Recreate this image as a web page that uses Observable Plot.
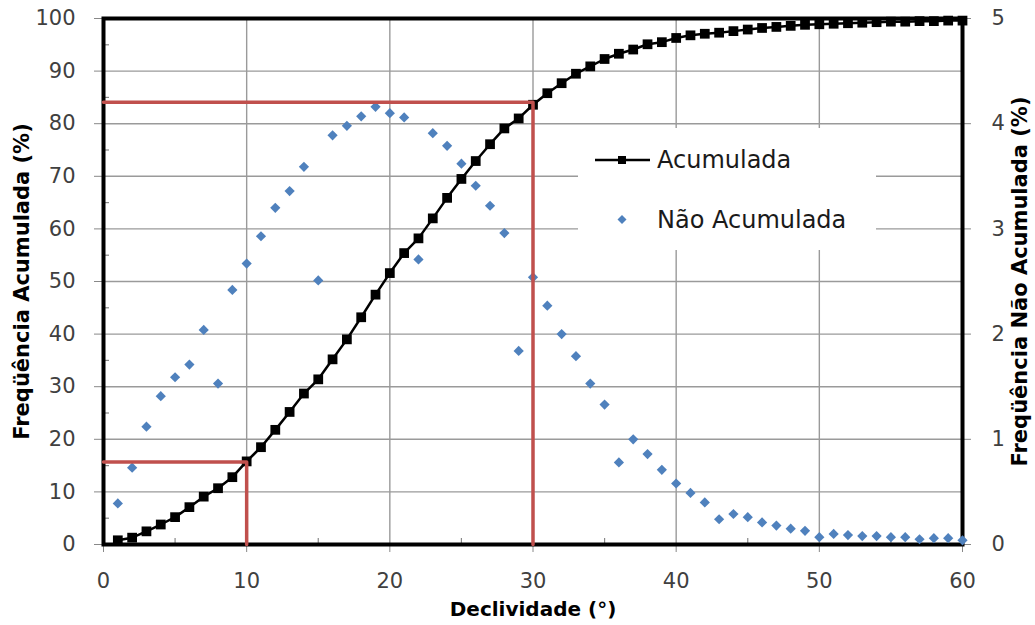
<!DOCTYPE html>
<html>
<head>
<meta charset="utf-8">
<script src="https://cdn.jsdelivr.net/npm/d3@7"></script>
<script src="https://cdn.jsdelivr.net/npm/@observablehq/plot@0.6"></script>
<style>
  html, body { margin: 0; padding: 0; background: white; }
  #chart { position: relative; width: 1035px; height: 625px; }
</style>
</head>
<body>
<div id="chart"></div>
<script>
// Slope classes (degrees)
const declividade = d3.range(1, 61);

// Cumulative frequency (%) – left axis
const acumulada = [
  0.8, 1.3, 2.5, 3.8, 5.2, 7.1, 9.1, 10.7, 12.8, 15.8,
  18.5, 21.8, 25.2, 28.7, 31.4, 35.2, 39.0, 43.2, 47.5, 51.6,
  55.4, 58.2, 62.0, 65.9, 69.5, 72.9, 76.1, 79.1, 81.0, 83.6,
  85.8, 87.7, 89.5, 90.9, 92.3, 93.3, 94.1, 95.1, 95.5, 96.3,
  96.8, 97.1, 97.3, 97.6, 97.9, 98.2, 98.4, 98.6, 98.8, 98.9,
  99.0, 99.1, 99.2, 99.3, 99.4, 99.4, 99.5, 99.5, 99.6, 99.6
];

// Non-cumulative frequency (%) – right axis
const naoAcumulada = [
  0.39, 0.73, 1.12, 1.41, 1.59, 1.71, 2.04, 1.53, 2.42, 2.67,
  2.93, 3.20, 3.36, 3.59, 2.51, 3.89, 3.98, 4.07, 4.16, 4.10,
  4.06, 2.71, 3.91, 3.79, 3.62, 3.41, 3.22, 2.96, 1.84, 2.54,
  2.27, 2.00, 1.79, 1.53, 1.33, 0.78, 1.00, 0.86, 0.71, 0.58,
  0.49, 0.40, 0.24, 0.29, 0.26, 0.21, 0.18, 0.15, 0.13, 0.07,
  0.10, 0.09, 0.08, 0.08, 0.07, 0.07, 0.05, 0.06, 0.06, 0.04
];

// Reference lines (red): slope value and cumulative frequency
const refX = [10, 30];
const refY = [15.7, 84.1];

// Axis ticks
const xTicks = [0, 10, 20, 30, 40, 50, 60];
const xMinor = [5, 15, 25, 35, 45, 55];
const yTicks = [0, 10, 20, 30, 40, 50, 60, 70, 80, 90, 100];
const yMinor = [5, 15, 25, 35, 45, 55, 65, 75, 85, 95];
const y2Ticks = [0, 1, 2, 3, 4, 5];
const y2Max = 5;
const yMax = 100;
const k = yMax / y2Max;

const cum = declividade.map((x, i) => ({x, y: acumulada[i]}));
const nonCum = declividade.map((x, i) => ({x, v: naoAcumulada[i]}));
const refs = refX.flatMap((x, i) => [
  {id: i, x: 0, y: refY[i]},
  {id: i, x: x, y: refY[i]},
  {id: i, x: x, y: 0}
]);

const W = 1035, H = 625, mL = 103, mR = 73, mT = 18, mB = 81;
const pw = W - mL - mR, ph = H - mT - mB;

const chart = Plot.plot({
  width: W, height: H,
  marginLeft: mL, marginRight: mR, marginTop: mT, marginBottom: mB,
  style: {fontFamily: "DejaVu Sans", fontSize: "21px", color: "#404040", background: "white"},
  x: {domain: [0, 60], ticks: xTicks},
  y: {domain: [0, yMax], ticks: yTicks},
  marks: [
    Plot.gridX(xTicks.slice(1, -1), {stroke: "#9a9a9a", strokeOpacity: 1, strokeWidth: 1.4}),
    Plot.gridY(yTicks.slice(1, -1), {stroke: "#9a9a9a", strokeOpacity: 1, strokeWidth: 1.4}),
    Plot.ruleX(xMinor, {stroke: "#888", strokeWidth: 1.2, insetTop: ph - 6}),
    Plot.ruleY(yMinor, {stroke: "#888", strokeWidth: 1.2, insetRight: pw - 6}),
    Plot.axisX({ticks: xTicks, tickSize: 8, tickPadding: 21, stroke: "#888", fill: "#404040", label: null, fontSize: 21}),
    Plot.axisY({anchor: "left", ticks: yTicks, tickSize: 9, tickPadding: 19, stroke: "#888", fill: "#404040", label: null, fontSize: 21}),
    Plot.axisY({anchor: "right", ticks: y2Ticks.map(d => d * k), tickFormat: d => d / k, tickSize: 8, tickPadding: 21, stroke: "#888", fill: "#404040", label: null, fontSize: 21}),
    Plot.frame({stroke: "black", strokeWidth: 4}),
    Plot.line(cum, {x: "x", y: "y", stroke: "black", strokeWidth: 2.5}),
    Plot.dot(cum, {x: "x", y: "y", symbol: "square", r: 5.5, fill: "black", stroke: "none"}),
    Plot.dot(nonCum, {x: "x", y: d => d.v * k, symbol: "diamond2", r: 4.6, fill: "#4F81BD", stroke: "none"}),
    Plot.line(refs, {x: "x", y: "y", z: "id", stroke: "#C0504D", strokeWidth: 3.5}),
    Plot.text(["Declividade (°)"], {frameAnchor: "bottom", dy: 71, textAnchor: "middle", fontWeight: "bold", fontSize: 20, fill: "black"}),
    Plot.text(["Freqüência Acumulada (%)"], {frameAnchor: "left", dx: -81, rotate: -90, textAnchor: "middle", fontWeight: "bold", fontSize: 21, fill: "black"}),
    Plot.text(["Freqüência Não Acumulada (%)"], {frameAnchor: "right", dx: 58, rotate: -90, textAnchor: "middle", fontWeight: "bold", fontSize: 21, fill: "black"})
  ]
});

document.getElementById("chart").appendChild(chart);

// Legend (inside plot area, white background)
const svg = d3.select(chart);
const lg = svg.append("g").attr("font-family", "DejaVu Sans").attr("font-size", 24).attr("fill", "#1a1a1a").attr("text-anchor", "start");
lg.append("rect").attr("x", 578).attr("y", 128).attr("width", 298).attr("height", 122).attr("fill", "white");
lg.append("line").attr("x1", 595).attr("x2", 650).attr("y1", 160).attr("y2", 160).attr("stroke", "black").attr("stroke-width", 2.5);
lg.append("rect").attr("x", 618).attr("y", 156).attr("width", 8).attr("height", 8).attr("fill", "black");
lg.append("text").attr("x", 657).attr("y", 168).attr("text-anchor", "start").text("Acumulada");
lg.append("path").attr("d", "M622,215L626.5,219.5L622,224L617.5,219.5Z").attr("fill", "#4F81BD");
lg.append("text").attr("x", 657).attr("y", 228).attr("text-anchor", "start").text("Não Acumulada");
</script>
</body>
</html>
